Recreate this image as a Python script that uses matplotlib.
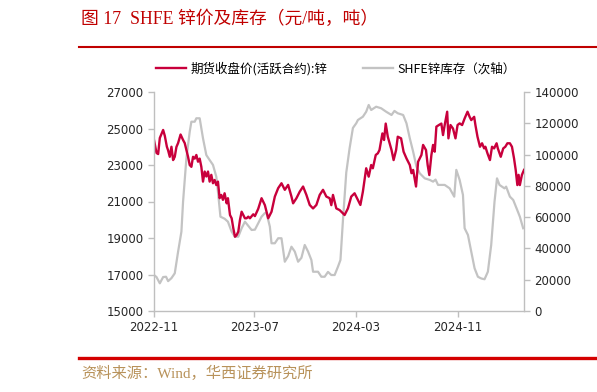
import matplotlib
matplotlib.use("Agg")
import matplotlib.pyplot as plt
import matplotlib.dates as mdates
import pandas as pd

# 期货收盘价(活跃合约):锌, 元/吨
price_dates = [
    "2022-11-01", "2022-11-07", "2022-11-11", "2022-11-15", "2022-11-23", "2022-11-27",
    "2022-12-02", "2022-12-05", "2022-12-09", "2022-12-13", "2022-12-17", "2022-12-21",
    "2022-12-25", "2022-12-29", "2023-01-04", "2023-01-10", "2023-01-14", "2023-01-18",
    "2023-01-22", "2023-01-26", "2023-01-30", "2023-02-03", "2023-02-07", "2023-02-11",
    "2023-02-15", "2023-02-19", "2023-02-23", "2023-02-27", "2023-03-03", "2023-03-07",
    "2023-03-11", "2023-03-15", "2023-03-19", "2023-03-23", "2023-03-27", "2023-03-31",
    "2023-04-04", "2023-04-08", "2023-04-12", "2023-04-16", "2023-04-20", "2023-04-25",
    "2023-04-28", "2023-05-03", "2023-05-07", "2023-05-11", "2023-05-15", "2023-05-19",
    "2023-05-23", "2023-05-27", "2023-05-31", "2023-06-04", "2023-06-08", "2023-06-12",
    "2023-06-16", "2023-06-20", "2023-06-28", "2023-07-02", "2023-07-10", "2023-07-18",
    "2023-07-26", "2023-08-03", "2023-08-11", "2023-08-19", "2023-08-27", "2023-09-04",
    "2023-09-12", "2023-09-20", "2023-09-28", "2023-10-02", "2023-10-10", "2023-10-18",
    "2023-10-26", "2023-11-03", "2023-11-11", "2023-11-19", "2023-11-27", "2023-12-05",
    "2023-12-13", "2023-12-21", "2023-12-29", "2024-01-02", "2024-01-06", "2024-01-14",
    "2024-01-22", "2024-02-03", "2024-02-11", "2024-02-19", "2024-02-27", "2024-03-06",
    "2024-03-12", "2024-03-18", "2024-03-26", "2024-04-01", "2024-04-07", "2024-04-11",
    "2024-04-18", "2024-04-23", "2024-04-27", "2024-05-04", "2024-05-08", "2024-05-12",
    "2024-05-17", "2024-05-26", "2024-05-31", "2024-06-06", "2024-06-10", "2024-06-18",
    "2024-06-24", "2024-07-01", "2024-07-09", "2024-07-13", "2024-07-17", "2024-07-24",
    "2024-07-29", "2024-08-06", "2024-08-10", "2024-08-17", "2024-08-21", "2024-08-25",
    "2024-08-30", "2024-09-03", "2024-09-07", "2024-09-11", "2024-09-17", "2024-09-23",
    "2024-09-27", "2024-10-01", "2024-10-07", "2024-10-10", "2024-10-15", "2024-10-21",
    "2024-10-27", "2024-11-01", "2024-11-06", "2024-11-12", "2024-11-18", "2024-11-25",
    "2024-11-30", "2024-12-04", "2024-12-11", "2024-12-14", "2024-12-19", "2024-12-25",
    "2024-12-30", "2025-01-04", "2025-01-07", "2025-01-12", "2025-01-18", "2025-01-23",
    "2025-01-28", "2025-02-03", "2025-02-06", "2025-02-13", "2025-02-19", "2025-02-24",
    "2025-03-01", "2025-03-07", "2025-03-12", "2025-03-17", "2025-03-21", "2025-03-25",
    "2025-03-28", "2025-03-31", "2025-04-05", "2025-04-10",
]
price_vals = [
    24370, 23660, 23600, 24480, 24920, 24600,
    24000, 23800, 23450, 24000, 23270, 23450,
    23990, 24200, 24670, 24370, 24200, 23820,
    23450, 23000, 22900, 23450, 23350, 23550,
    23180, 23350, 22900, 22090, 22640, 22370,
    22640, 22090, 22460, 22000, 22180, 21900,
    22090, 21180, 21360, 21090, 21450, 20900,
    21180, 20260, 20080, 19530, 19070, 19160,
    19350, 19990, 20440, 20260, 20080, 20080,
    20170, 20080, 20300, 20200, 20600, 21180,
    20800, 20080, 20440, 21270, 21730, 22000,
    21640, 21910, 21270, 20900, 21180, 21540,
    21820, 21360, 20810, 20620, 20810, 21360,
    21640, 21270, 21180, 20800, 21360, 20620,
    20530, 20260, 20620, 21270, 21450, 21090,
    20810, 21540, 22820, 22360, 23000, 22820,
    23550, 23640, 23820, 24730, 24370, 25270,
    24550, 23820, 23270, 23820, 24550, 24460,
    23730, 23360, 23000, 22550, 22730, 21820,
    23180, 23550, 24100, 23820, 23000, 22450,
    23550, 24100, 23730, 25100, 25190, 25270,
    24640, 25190, 25920, 24460, 25190, 25000,
    24460, 25190, 25280, 25190, 25550, 25920,
    25640, 25460, 25640, 25190, 24550, 24000,
    24190, 23910, 24000, 23640, 23270, 24000,
    23910, 24190, 23910, 23450, 23910, 24000,
    24190, 24190, 24000, 23360, 22730, 21900,
    22460, 21900, 22460, 22730,
]

# SHFE锌库存, 吨 (次轴)
stock_dates = [
    "2022-11-01", "2022-11-07", "2022-11-15", "2022-11-23", "2022-11-30", "2022-12-05",
    "2022-12-13", "2022-12-21", "2022-12-29", "2023-01-06", "2023-01-10", "2023-01-18",
    "2023-01-26", "2023-01-30", "2023-02-07", "2023-02-11", "2023-02-19", "2023-02-27",
    "2023-03-07", "2023-03-15", "2023-03-23", "2023-03-31", "2023-04-04", "2023-04-10",
    "2023-04-20", "2023-04-28", "2023-05-07", "2023-05-15", "2023-05-23", "2023-05-31",
    "2023-06-08", "2023-06-24", "2023-07-02", "2023-07-10", "2023-07-18", "2023-07-26",
    "2023-07-30", "2023-08-07", "2023-08-11", "2023-08-19", "2023-08-27", "2023-09-04",
    "2023-09-12", "2023-09-20", "2023-09-28", "2023-10-06", "2023-10-14", "2023-10-22",
    "2023-10-30", "2023-11-07", "2023-11-15", "2023-11-19", "2023-12-01", "2023-12-09",
    "2023-12-17", "2023-12-25", "2024-01-02", "2024-01-10", "2024-01-18", "2024-01-24",
    "2024-01-30", "2024-02-07", "2024-02-15", "2024-02-23", "2024-03-02", "2024-03-06",
    "2024-03-18", "2024-03-26", "2024-04-01", "2024-04-07", "2024-04-19", "2024-05-01",
    "2024-05-13", "2024-05-26", "2024-06-02", "2024-06-10", "2024-06-23", "2024-07-01",
    "2024-07-09", "2024-07-17", "2024-07-25", "2024-08-02", "2024-08-14", "2024-08-26",
    "2024-09-03", "2024-09-09", "2024-09-15", "2024-10-01", "2024-10-13", "2024-10-24",
    "2024-10-29", "2024-11-06", "2024-11-14", "2024-11-18", "2024-11-26", "2024-12-04",
    "2024-12-12", "2024-12-20", "2024-12-28", "2025-01-05", "2025-01-13", "2025-01-21",
    "2025-01-29", "2025-02-04", "2025-02-10", "2025-02-22", "2025-02-26", "2025-03-07",
    "2025-03-15", "2025-03-23", "2025-03-31", "2025-04-08",
]
stock_vals = [
    23000, 21700, 17700, 21700, 21900, 19100,
    21000, 24100, 37900, 50700, 69900, 97600,
    114600, 121000, 121000, 123200, 123200, 110400,
    99700, 96500, 93400, 85900, 76300, 60300,
    59000, 57100, 50700, 47500, 47500, 52900,
    57100, 51800, 52000, 56100, 60300, 62600,
    62600, 53900, 43300, 43300, 46500, 46500,
    31500, 35000, 41100, 38000, 31500, 34000,
    42200, 38000, 32600, 25100, 25100, 21900,
    21900, 25000, 23000, 23000, 28300, 32600,
    58000, 88500, 104000, 117000, 120000, 122100,
    124200, 127400, 131700, 128500, 130600, 129600,
    127400, 125300, 127900, 126400, 125300, 120000,
    110400, 101900, 92300, 88000, 84800, 83800,
    82700, 84000, 80600, 80600, 78400, 73100,
    90200, 83800, 74200, 52900, 48600, 37900,
    27300, 21900, 20800, 20300, 25100, 42200,
    69900, 84800, 80600, 78400, 79500, 73100,
    71000, 65700, 60300, 52900,
]

xtick_labels = ["2022-11", "2023-07", "2024-03", "2024-11"]

RED = "#C8003C"
GRAY = "#C3C3C3"
SPINE = "#BFBFBF"
plt.rcParams["font.family"] = ["Noto Sans CJK SC", "DejaVu Sans"]

fig = plt.figure(figsize=(5.97, 3.92), dpi=100, facecolor="white")
ax = fig.add_axes([154 / 597, 1 - 311 / 392, 370 / 597, 219 / 392])
ax2 = ax.twinx()

pdates = pd.to_datetime(price_dates)
sdates = pd.to_datetime(stock_dates)
ax2.plot(sdates, stock_vals, color=GRAY, lw=1.6, solid_joinstyle="round")
ax.plot(pdates, price_vals, color=RED, lw=1.7, solid_joinstyle="round")
ax.set_zorder(ax2.get_zorder() + 1)
ax.patch.set_visible(False)

ax.set_ylim(15000, 27000)
ax.set_yticks(range(15000, 27001, 2000))
ax2.set_ylim(0, 140000)
ax2.set_yticks(range(0, 140001, 20000))
ax.set_xlim(pd.Timestamp("2022-11-01"), pd.Timestamp("2025-04-10"))
ax.set_xticks(pd.to_datetime([s + "-01" for s in xtick_labels]))
ax.xaxis.set_major_formatter(mdates.DateFormatter("%Y-%m"))

for a in (ax, ax2):
    a.spines["top"].set_visible(False)
    for s in ("left", "right", "bottom"):
        a.spines[s].set_color(SPINE)
        a.spines[s].set_linewidth(1.0)
    a.tick_params(colors=SPINE, labelcolor="#262626", labelsize=8.5, length=4, width=1.0)
ax.spines["right"].set_visible(False)
ax2.spines["left"].set_visible(False)
ax2.spines["bottom"].set_visible(False)
for lab in ax.get_xticklabels() + ax.get_yticklabels() + ax2.get_yticklabels():
    lab.set_family(["DejaVu Sans"])
    lab.set_fontsize(8.5)

# legend
h1 = plt.Line2D([], [], color=RED, lw=1.7)
h2 = plt.Line2D([], [], color=GRAY, lw=1.7)
fig.legend([h1, h2], ["期货收盘价(活跃合约):锌", "SHFE锌库存（次轴）"],
           loc="center", bbox_to_anchor=(336 / 597, 1 - 69 / 392), ncol=2,
           frameon=False, fontsize=9, handlelength=2.4, handletextpad=0.35,
           columnspacing=2.9)

# title and source
fig.text(81 / 597, 1 - 19 / 392, "图 17  SHFE 锌价及库存（元/吨，吨）", color="#C00000",
         fontsize=12.8, ha="left", va="center",
         family=["Liberation Serif", "Noto Sans CJK SC"])
fig.add_artist(plt.Line2D([79 / 597, 1.0], [1 - 47 / 392] * 2, color="#C00000", lw=1.5))
fig.add_artist(plt.Line2D([79 / 597, 1.0], [1 - 358 / 392] * 2, color="#D40000", lw=2.4))
fig.text(81 / 597, 1 - 373 / 392, "资料来源：Wind，华西证券研究所", color="#B8925A",
         fontsize=11, ha="left", va="center",
         family=["Liberation Serif", "Noto Sans CJK SC"])

fig.savefig("out.png", dpi=100, facecolor="white")
